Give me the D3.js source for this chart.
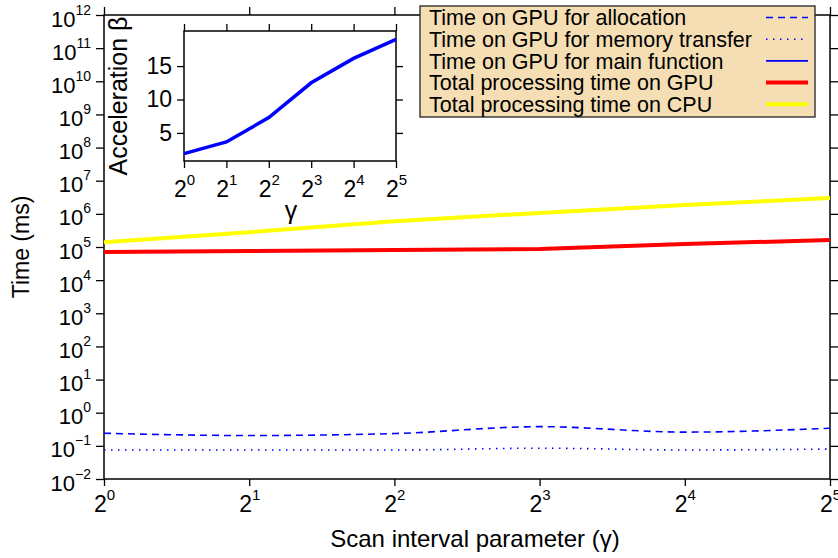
<!DOCTYPE html>
<html>
<head>
<meta charset="utf-8">
<script src="https://cdn.jsdelivr.net/npm/d3@7"></script>
<style>
  body { margin: 0; background: #fff; }
  svg { display: block; font-family: "Liberation Sans", Arial, sans-serif; }
</style>
</head>
<body>
<div id="chart"></div>
<script>
// scan interval parameter gamma = 2^0 .. 2^5
const gammas = [1, 2, 4, 8, 16, 32];
// times in ms
const gpuAlloc = [0.24, 0.205, 0.235, 0.38, 0.26, 0.34];
const gpuTransfer = [0.075, 0.075, 0.075, 0.085, 0.075, 0.08];
const gpuMain = [70000, 75000, 80000, 86000, 122000, 160000];
const gpuTotal = [71000, 76000, 81000, 87000, 123000, 162000];
const cpuTotal = [140000, 280000, 600000, 1070000, 1860000, 3000000];
// inset: acceleration beta
const beta = [1.9, 3.65, 7.3, 12.5, 16.15, 19.0];

const yExps = d3.range(-2, 13);
const xExps = d3.range(0, 6);
const insetYTicks = [5, 10, 15];

const W = 838, H = 558;
const svg = d3.select('#chart').append('svg')
  .attr('width', W).attr('height', H);

const plot = { left: 104, right: 830, top: 15, bottom: 479 };

const x = d3.scaleLog().base(2).domain([1, 32]).range([plot.left, plot.right]);
const y = d3.scaleLog().domain([1e-2, 1e12]).range([plot.bottom, plot.top]);

// superscript labels like 10^5 and 2^3
function supLabel(sel, base, anchor, size, supSize, rise) {
  sel.each(function (e) {
    const t = d3.select(this);
    t.text(null).attr('text-anchor', anchor).style('font-size', size + 'px').attr('fill', '#000');
    t.append('tspan').text(base);
    t.append('tspan').attr('dy', -rise).style('font-size', supSize + 'px')
      .text(e < 0 ? '\u2212' + (-e) : e);
  });
}

// axes with outward ticks on all four sides
const yTickVals = yExps.map(e => 10 ** e);
const xTickVals = xExps.map(e => 2 ** e);

const gLeft = svg.append('g').attr('transform', `translate(${plot.left},0)`)
  .call(d3.axisLeft(y).tickValues(yTickVals).tickSizeInner(8).tickSizeOuter(0).tickFormat(''));
gLeft.selectAll('.tick text').data(yExps)
  .call(sel => supLabel(sel, '10', 'end', 22, 14, 12))
  .attr('x', -13).attr('dy', 11);

svg.append('g').attr('transform', `translate(${plot.right},0)`)
  .call(d3.axisRight(y).tickValues(yTickVals).tickSizeInner(8).tickSizeOuter(0).tickFormat(''));

const gBottom = svg.append('g').attr('transform', `translate(0,${plot.bottom})`)
  .call(d3.axisBottom(x).tickValues(xTickVals).tickSizeInner(7).tickSizeOuter(0).tickFormat(''));
gBottom.selectAll('.tick text').data(xExps)
  .call(sel => supLabel(sel, '2', 'middle', 23, 15, 12))
  .attr('y', 0).attr('dy', 0);
gBottom.selectAll('.tick text tspan:first-child').attr('x', 0).attr('y', 33);

svg.append('g').attr('transform', `translate(0,${plot.top})`)
  .call(d3.axisTop(x).tickValues(xTickVals).tickSizeInner(8).tickSizeOuter(0).tickFormat(''));

svg.selectAll('.domain').remove();
svg.selectAll('.tick line').attr('stroke', '#000').attr('stroke-width', 1.3);

svg.append('rect')
  .attr('x', plot.left).attr('y', plot.top)
  .attr('width', plot.right - plot.left).attr('height', plot.bottom - plot.top)
  .attr('fill', 'none').attr('stroke', '#000').attr('stroke-width', 1.5);

// axis titles
svg.append('text')
  .attr('transform', `translate(29,247) rotate(-90)`)
  .attr('text-anchor', 'middle')
  .style('font-size', '23px')
  .text('Time (ms)');

svg.append('text')
  .attr('x', 475).attr('y', 547)
  .attr('text-anchor', 'middle')
  .style('font-size', '24px')
  .text('Scan interval parameter (\u03b3)');

// series
const series = [
  { name: 'Time on GPU for allocation', values: gpuAlloc, color: '#0000ff', width: 1.6, dash: '7,5', curve: d3.curveMonotoneX },
  { name: 'Time on GPU for memory transfer', values: gpuTransfer, color: '#0000ff', width: 1.6, dash: '1.5,5.5', curve: d3.curveMonotoneX },
  { name: 'Time on GPU for main function', values: gpuMain, color: '#0000ff', width: 1.6, dash: null, curve: d3.curveLinear },
  { name: 'Total processing time on GPU', values: gpuTotal, color: '#ff0000', width: 4, dash: null, curve: d3.curveLinear },
  { name: 'Total processing time on CPU', values: cpuTotal, color: '#ffff00', width: 4, dash: null, curve: d3.curveLinear }
];

series.forEach(s => {
  const line = d3.line()
    .x((d, i) => x(gammas[i]))
    .y(d => y(d))
    .curve(s.curve);
  svg.append('path')
    .datum(s.values)
    .attr('d', line)
    .attr('fill', 'none')
    .attr('stroke', s.color)
    .attr('stroke-width', s.width)
    .attr('stroke-dasharray', s.dash);
});

// legend
const legend = svg.append('g');
legend.append('rect')
  .attr('x', 420).attr('y', 6).attr('width', 395).attr('height', 111)
  .attr('fill', '#f5deb3').attr('stroke', '#222').attr('stroke-width', 1.3);

series.forEach((s, i) => {
  const cy = 17.5 + i * 21.7;
  legend.append('text')
    .attr('x', 429).attr('y', cy).attr('dy', '0.36em')
    .style('font-size', '21.5px')
    .text(s.name);
  legend.append('line')
    .attr('x1', 766).attr('x2', 808).attr('y1', cy).attr('y2', cy)
    .attr('stroke', s.color)
    .attr('stroke-width', s.width)
    .attr('stroke-dasharray', s.dash);
});

// inset: acceleration
const inset = { left: 184, right: 396, top: 31, bottom: 161 };
const xi = d3.scaleLog().base(2).domain([1, 32]).range([inset.left, inset.right]);
const yi = d3.scaleLinear().domain([0.8, 20.25]).range([inset.bottom, inset.top]);

svg.append('rect')
  .attr('x', inset.left).attr('y', inset.top)
  .attr('width', inset.right - inset.left).attr('height', inset.bottom - inset.top)
  .attr('fill', '#fff').attr('stroke', '#000').attr('stroke-width', 1.5);

const giL = svg.append('g').attr('transform', `translate(${inset.left},0)`)
  .call(d3.axisLeft(yi).tickValues(insetYTicks).tickSizeInner(7).tickSizeOuter(0).tickPadding(5));
giL.selectAll('.tick text').style('font-size', '23px').attr('fill', '#000');

svg.append('g').attr('transform', `translate(${inset.right},0)`)
  .call(d3.axisRight(yi).tickValues(insetYTicks).tickSizeInner(7).tickSizeOuter(0).tickFormat(''));

const giB = svg.append('g').attr('transform', `translate(0,${inset.bottom})`)
  .call(d3.axisBottom(xi).tickValues(xTickVals).tickSizeInner(7).tickSizeOuter(0).tickFormat(''));
giB.selectAll('.tick text').data(xExps)
  .call(sel => supLabel(sel, '2', 'middle', 23, 15, 12))
  .attr('y', 0).attr('dy', 0);
giB.selectAll('.tick text tspan:first-child').attr('x', 0).attr('y', 36);

svg.append('g').attr('transform', `translate(0,${inset.top})`)
  .call(d3.axisTop(xi).tickValues(xTickVals).tickSizeInner(7).tickSizeOuter(0).tickFormat(''));

svg.selectAll('.domain').remove();
svg.selectAll('.tick line').attr('stroke', '#000').attr('stroke-width', 1.3);

svg.append('path')
  .datum(beta)
  .attr('d', d3.line().x((d, i) => xi(gammas[i])).y(d => yi(d)))
  .attr('fill', 'none')
  .attr('stroke', '#0000ff')
  .attr('stroke-width', 3.5);

svg.append('text')
  .attr('transform', `translate(127,96) rotate(-90)`)
  .attr('text-anchor', 'middle')
  .style('font-size', '25px')
  .text('Acceleration \u03b2');

svg.append('text')
  .attr('x', 291).attr('y', 219)
  .attr('text-anchor', 'middle')
  .style('font-size', '25px')
  .text('\u03b3');
</script>
</body>
</html>
